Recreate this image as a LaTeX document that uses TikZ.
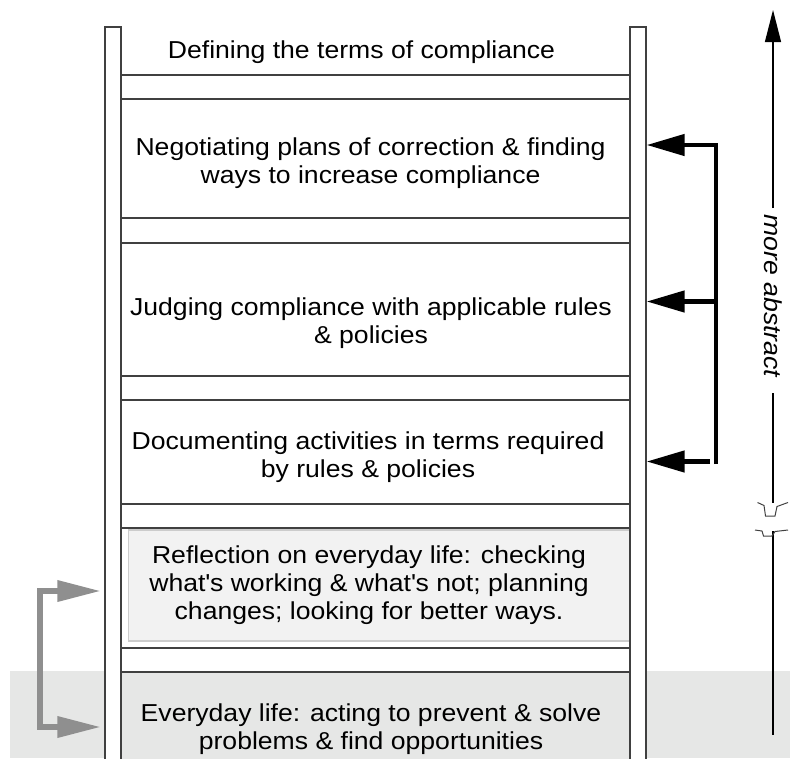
\documentclass[tikz,border=0pt]{standalone}
\usepackage{fontspec}
\setmainfont{Liberation Sans}[FakeStretch=1.085]
\usetikzlibrary{arrows.meta}
\definecolor{band}{HTML}{E6E7E6}
\definecolor{reflfill}{HTML}{F2F2F2}
\definecolor{arrowgray}{HTML}{8F8F8F}
\definecolor{edge}{HTML}{404040}

\begin{document}
\begin{tikzpicture}[x=1pt, y=-1pt,
  rail/.style = {draw=edge, fill=white, line width=1.3pt, minimum width=16pt, minimum height=740pt, inner sep=0pt},
  rung/.style = {draw=edge, line width=1.4pt, minimum width=509pt, minimum height=24pt, inner sep=0pt},
  level/.style = {draw=edge, line width=1.4pt, minimum width=509pt, inner sep=0pt},
  txt/.style = {align=center, inner sep=0pt, font=\fontsize{24.5}{28.3}\selectfont},
  bk/.style = {line width=4.5pt, -{Triangle[length=38pt,width=21pt]}},
  gr/.style = {draw=arrowgray, line width=6.5pt, {Triangle[length=44pt,width=20pt]}-{Triangle[length=44pt,width=20pt]}}]
\useasboundingbox (0,0) rectangle (790,758);
\fill[band] (10,671) rectangle (790,758);

% levels of the ladder
\node[level, minimum height=119pt] (neg) at (375.5,158.5) {};
\node[level, minimum height=133pt] (jud) at (375.5,309.5) {};
\node[level, minimum height=104pt] (doc) at (375.5,452) {};
\node[level, minimum height=120pt] (refl) at (375.5,588) {};
\node[draw=black!20, fill=reflfill, line width=1.5pt, minimum width=501pt, minimum height=111pt, inner sep=0pt] (reflin) at (379,585.5) {};
\node[level, fill=band, minimum height=90pt] (every) at (375.5,717) {};

% rungs and rails
\foreach \y [count=\i] in {87,230.5,388,516,660}
  \node[rung] (rung\i) at (375.5,\y) {};
\node[rail] (lrail) at (113,397) {};
\node[rail] (rrail) at (638,397) {};

% texts
\node[txt] (tdef) at (361.5,52.5) {Defining the terms of compliance};
\node[txt] (tneg) at (370.5,163) {Negotiating plans of correction \& finding\\ways to increase compliance};
\node[txt] (tjud) at (371,323) {Judging compliance with applicable rules\\\& policies};
\node[txt] (tdoc) at (368,457) {Documenting activities in terms required\\by rules \& policies};
\node[txt] (trefl) at (369,585) {Reflection on everyday life: checking\\what\textquotesingle s working \& what\textquotesingle s not; planning\\changes; looking for better ways.};
\node[txt] (tevery) at (371,729) {Everyday life: acting to prevent \& solve\\problems \& find opportunities};

% black bracket
\coordinate (top) at (716,145);
\coordinate (mid) at (716,301.5);
\coordinate (low) at (710,461.5);
\draw[bk] (716,464) -- (top) -- (rrail.east |- top);
\draw[bk] (mid) -- (rrail.east |- mid);
\draw[bk] (low) -- (rrail.east |- low);

% gray bracket
\coordinate (g1) at (40,591);
\coordinate (g2) at (40,727);
\draw[gr] ([xshift=-3pt]lrail.west |- g1) -- (g1) -- (g2) -- ([xshift=-3pt]lrail.west |- g2);

% more abstract axis
\node[txt, font=\fontsize{24.5}{28.3}\selectfont\itshape, rotate=-90] (abs) at (773,296) {more abstract};
\draw[line width=1.2pt, -{Triangle[length=32pt,width=16pt]}] (773,208) -- (773,10);
\draw[line width=1.2pt] (773,393) -- (773,503);
\draw[line width=1.2pt] (773,531) -- (773,735);
\draw[line width=1pt, edge] (757.5,502.5) -- (764,505.5) -- (765.5,516) -- (775,516) -- (777,506.5) -- (788,502.5);
\draw[line width=1pt, edge] (755,530) -- (762,531) -- (763.5,536) -- (772,536) -- (775,531.5) -- (788,530);
\end{tikzpicture}
\end{document}
